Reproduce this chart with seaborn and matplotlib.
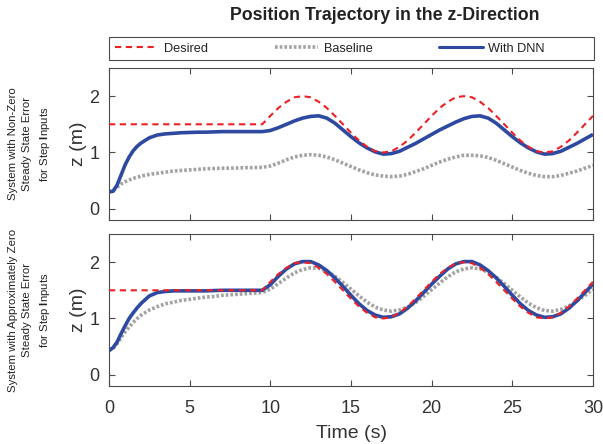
import matplotlib
matplotlib.use("Agg")
import matplotlib.pyplot as plt
import seaborn as sns
import pandas as pd
from matplotlib.lines import Line2D
from matplotlib.patches import Rectangle

# ---------------- data ----------------
time_s = [0, 0.25, 0.5, 0.75, 1, 1.25, 1.5, 1.75,
          2, 2.5, 3, 3.5, 4, 4.5, 5, 5.5, 6, 6.5, 7, 7.5, 8, 8.5, 9, 9.5,
          10, 10.5, 11, 11.5, 12, 12.5, 13, 13.5, 14, 14.5, 15, 15.5, 16, 16.5,
          17, 17.5, 18, 18.5, 19, 19.5, 20, 20.5, 21, 21.5, 22, 22.5, 23, 23.5,
          24, 24.5, 25, 25.5, 26, 26.5, 27, 27.5, 28, 28.5, 29, 29.5, 30]

desired = [1.5, 1.5, 1.5, 1.5, 1.5, 1.5, 1.5, 1.5,
           1.5, 1.5, 1.5, 1.5, 1.5, 1.5, 1.5, 1.5, 1.5, 1.5, 1.5, 1.5, 1.5, 1.5, 1.5, 1.5,
           1.65, 1.79, 1.90, 1.98, 2.00, 1.98, 1.90, 1.79, 1.65, 1.50, 1.35, 1.21, 1.10, 1.02,
           1.00, 1.02, 1.10, 1.21, 1.35, 1.50, 1.65, 1.79, 1.90, 1.98, 2.00, 1.98, 1.90, 1.79,
           1.65, 1.50, 1.35, 1.21, 1.10, 1.02, 1.00, 1.02, 1.10, 1.21, 1.35, 1.50, 1.65]

baseline_top = [0.30, 0.32, 0.38, 0.44, 0.48, 0.51, 0.54, 0.56,
                0.58, 0.61, 0.63, 0.65, 0.67, 0.68, 0.69, 0.70, 0.71, 0.715, 0.72, 0.72, 0.725, 0.73, 0.73, 0.735,
                0.76, 0.81, 0.87, 0.92, 0.95, 0.96, 0.95, 0.92, 0.87, 0.81, 0.75, 0.69, 0.64, 0.60,
                0.58, 0.57, 0.58, 0.61, 0.66, 0.71, 0.77, 0.83, 0.88, 0.92, 0.95, 0.95, 0.94, 0.91,
                0.86, 0.80, 0.74, 0.68, 0.63, 0.59, 0.57, 0.57, 0.59, 0.63, 0.67, 0.72, 0.77]

dnn_top = [0.30, 0.31, 0.42, 0.60, 0.78, 0.92, 1.03, 1.11,
           1.17, 1.26, 1.31, 1.33, 1.34, 1.35, 1.355, 1.36, 1.36, 1.365, 1.37, 1.37, 1.37, 1.37, 1.37, 1.37,
           1.39, 1.44, 1.50, 1.56, 1.61, 1.64, 1.65, 1.61, 1.52, 1.40, 1.28, 1.17, 1.08, 1.01,
           0.97, 0.98, 1.02, 1.09, 1.16, 1.24, 1.32, 1.40, 1.47, 1.54, 1.60, 1.64, 1.65, 1.61,
           1.52, 1.40, 1.28, 1.17, 1.08, 1.01, 0.97, 0.98, 1.02, 1.09, 1.16, 1.24, 1.32]

baseline_bot = [0.43, 0.47, 0.55, 0.66, 0.76, 0.85, 0.93, 1.00,
                1.06, 1.15, 1.21, 1.26, 1.29, 1.32, 1.34, 1.36, 1.38, 1.39, 1.41, 1.42, 1.43, 1.44, 1.45, 1.46,
                1.52, 1.62, 1.72, 1.81, 1.87, 1.90, 1.89, 1.84, 1.75, 1.64, 1.52, 1.40, 1.29, 1.20,
                1.15, 1.13, 1.15, 1.20, 1.28, 1.39, 1.51, 1.63, 1.74, 1.83, 1.88, 1.90, 1.88, 1.82,
                1.73, 1.62, 1.50, 1.38, 1.27, 1.19, 1.14, 1.13, 1.16, 1.22, 1.31, 1.41, 1.52]

dnn_bot = [0.43, 0.48, 0.58, 0.73, 0.87, 1.00, 1.10, 1.19,
           1.27, 1.40, 1.46, 1.48, 1.49, 1.49, 1.49, 1.49, 1.49, 1.495, 1.50, 1.50, 1.50, 1.50, 1.50, 1.50,
           1.60, 1.75, 1.88, 1.97, 2.01, 2.01, 1.95, 1.85, 1.72, 1.57, 1.41, 1.26, 1.14, 1.06,
           1.02, 1.03, 1.08, 1.18, 1.31, 1.46, 1.61, 1.75, 1.88, 1.97, 2.01, 2.01, 1.95, 1.85,
           1.72, 1.57, 1.41, 1.26, 1.14, 1.06, 1.02, 1.03, 1.08, 1.18, 1.31, 1.46, 1.61]

series_names = ["Desired", "Baseline", "With DNN"]
panel_labels = ["System with Non-Zero\nSteady State Error\nfor Step $\\mathbf{I}$nputs",
                "System with Approximately Zero\nSteady State Error\nfor Step $\\mathbf{I}$nputs"]
x_ticks = [0, 5, 10, 15, 20, 25, 30]
y_ticks = [0, 1, 2]

# ---------------- style ----------------
sns.set_theme(style="white")
plt.rcParams["font.family"] = ["Liberation Sans", "DejaVu Sans"]
plt.rcParams["mathtext.fontset"] = "custom"
plt.rcParams["mathtext.rm"] = "Liberation Sans"
plt.rcParams["mathtext.bf"] = "Liberation Sans:bold"

RED = "#ee2024"
GRAY = "#a3a3a3"
BLUE = "#2e4aa0"
AXC = "#4a4a4a"
TXT = "#333333"

styles = {
    "Desired": dict(color=RED, lw=1.5, dashes=(3.0, 2.2), z=3),
    "Baseline": dict(color=GRAY, lw=2.6, dashes=(0.75, 0.55), z=1),
    "With DNN": dict(color=BLUE, lw=2.6, dashes=None, z=2),
}

fig = plt.figure(figsize=(6.03, 4.44), dpi=100)
W, H = 603, 444
L, R = 109, 593
ax_top = fig.add_axes([L / W, 1 - 220 / H, (R - L) / W, 152 / H])
ax_bot = fig.add_axes([L / W, 1 - 386 / H, (R - L) / W, 152 / H])

panels = [(ax_top, baseline_top, dnn_top), (ax_bot, baseline_bot, dnn_bot)]
for ax, base, dnn in panels:
    df = pd.DataFrame({"t": time_s, "Desired": desired, "Baseline": base, "With DNN": dnn})
    for name in ["Baseline", "With DNN", "Desired"]:
        st = styles[name]
        sns.lineplot(data=df, x="t", y=name, ax=ax, color=st["color"], linewidth=st["lw"],
                     legend=False, zorder=st["z"])
        line = ax.get_lines()[-1]
        if st["dashes"] is not None:
            line.set_dashes(st["dashes"])
        line.set_solid_capstyle("butt")
        line.set_dash_capstyle("butt")
    ax.set_xlim(0, 30)
    ax.set_ylim(-0.2, 2.5)
    ax.set_xticks(x_ticks)
    ax.set_yticks(y_ticks)
    ax.tick_params(direction="in", length=4, width=0.8, color=AXC,
                   bottom=True, left=True, top=True, right=True,
                   labelsize=13, labelcolor=TXT, pad=7)
    ax.tick_params(axis="x", pad=10)
    for sp in ax.spines.values():
        sp.set_visible(True)
        sp.set_color(AXC)
        sp.set_linewidth(0.8)
    ax.set_ylabel("z (m)", fontsize=14, color=TXT, labelpad=1.5)
    ax.set_xlabel("")

ax_top.tick_params(labelbottom=False)
ax_bot.set_xlabel("Time (s)", fontsize=14, color=TXT, labelpad=6)

# side labels
for ax, txt in zip([ax_top, ax_bot], panel_labels):
    pos = ax.get_position()
    fig.text(30 / W, (pos.y0 + pos.y1) / 2, txt, rotation=90, ha="center", va="center",
             fontsize=8.2, color="#222222", linespacing=1.6, multialignment="center")

# title
fig.text(385 / W, 1 - 16 / H, "Position Trajectory in the z-Direction", ha="center", va="center",
         fontsize=12.8, fontweight="bold", color="#222222")

# legend (box drawn separately, like the reference's full-width frame)
fig.patches.append(Rectangle((L / W, 1 - 60 / H), (R + 1 - L) / W, 23 / H,
                             transform=fig.transFigure, fill=False, edgecolor=AXC, lw=0.8))
handles = []
for name in series_names:
    st = styles[name]
    h = Line2D([], [], color=st["color"], lw=st["lw"] if name != "With DNN" else 2.2)
    if st["dashes"] is not None:
        h.set_dashes(st["dashes"])
    handles.append(h)
leg = fig.legend(handles, series_names, loc="center left",
                 bbox_to_anchor=(115 / W, 1 - 48.5 / H),
                 ncol=3, frameon=False, fontsize=9.2,
                 handlelength=3.4, handletextpad=0.45, columnspacing=5.2,
                 borderpad=0, borderaxespad=0, labelcolor="#222222")

fig.savefig("out.png", dpi=100)
